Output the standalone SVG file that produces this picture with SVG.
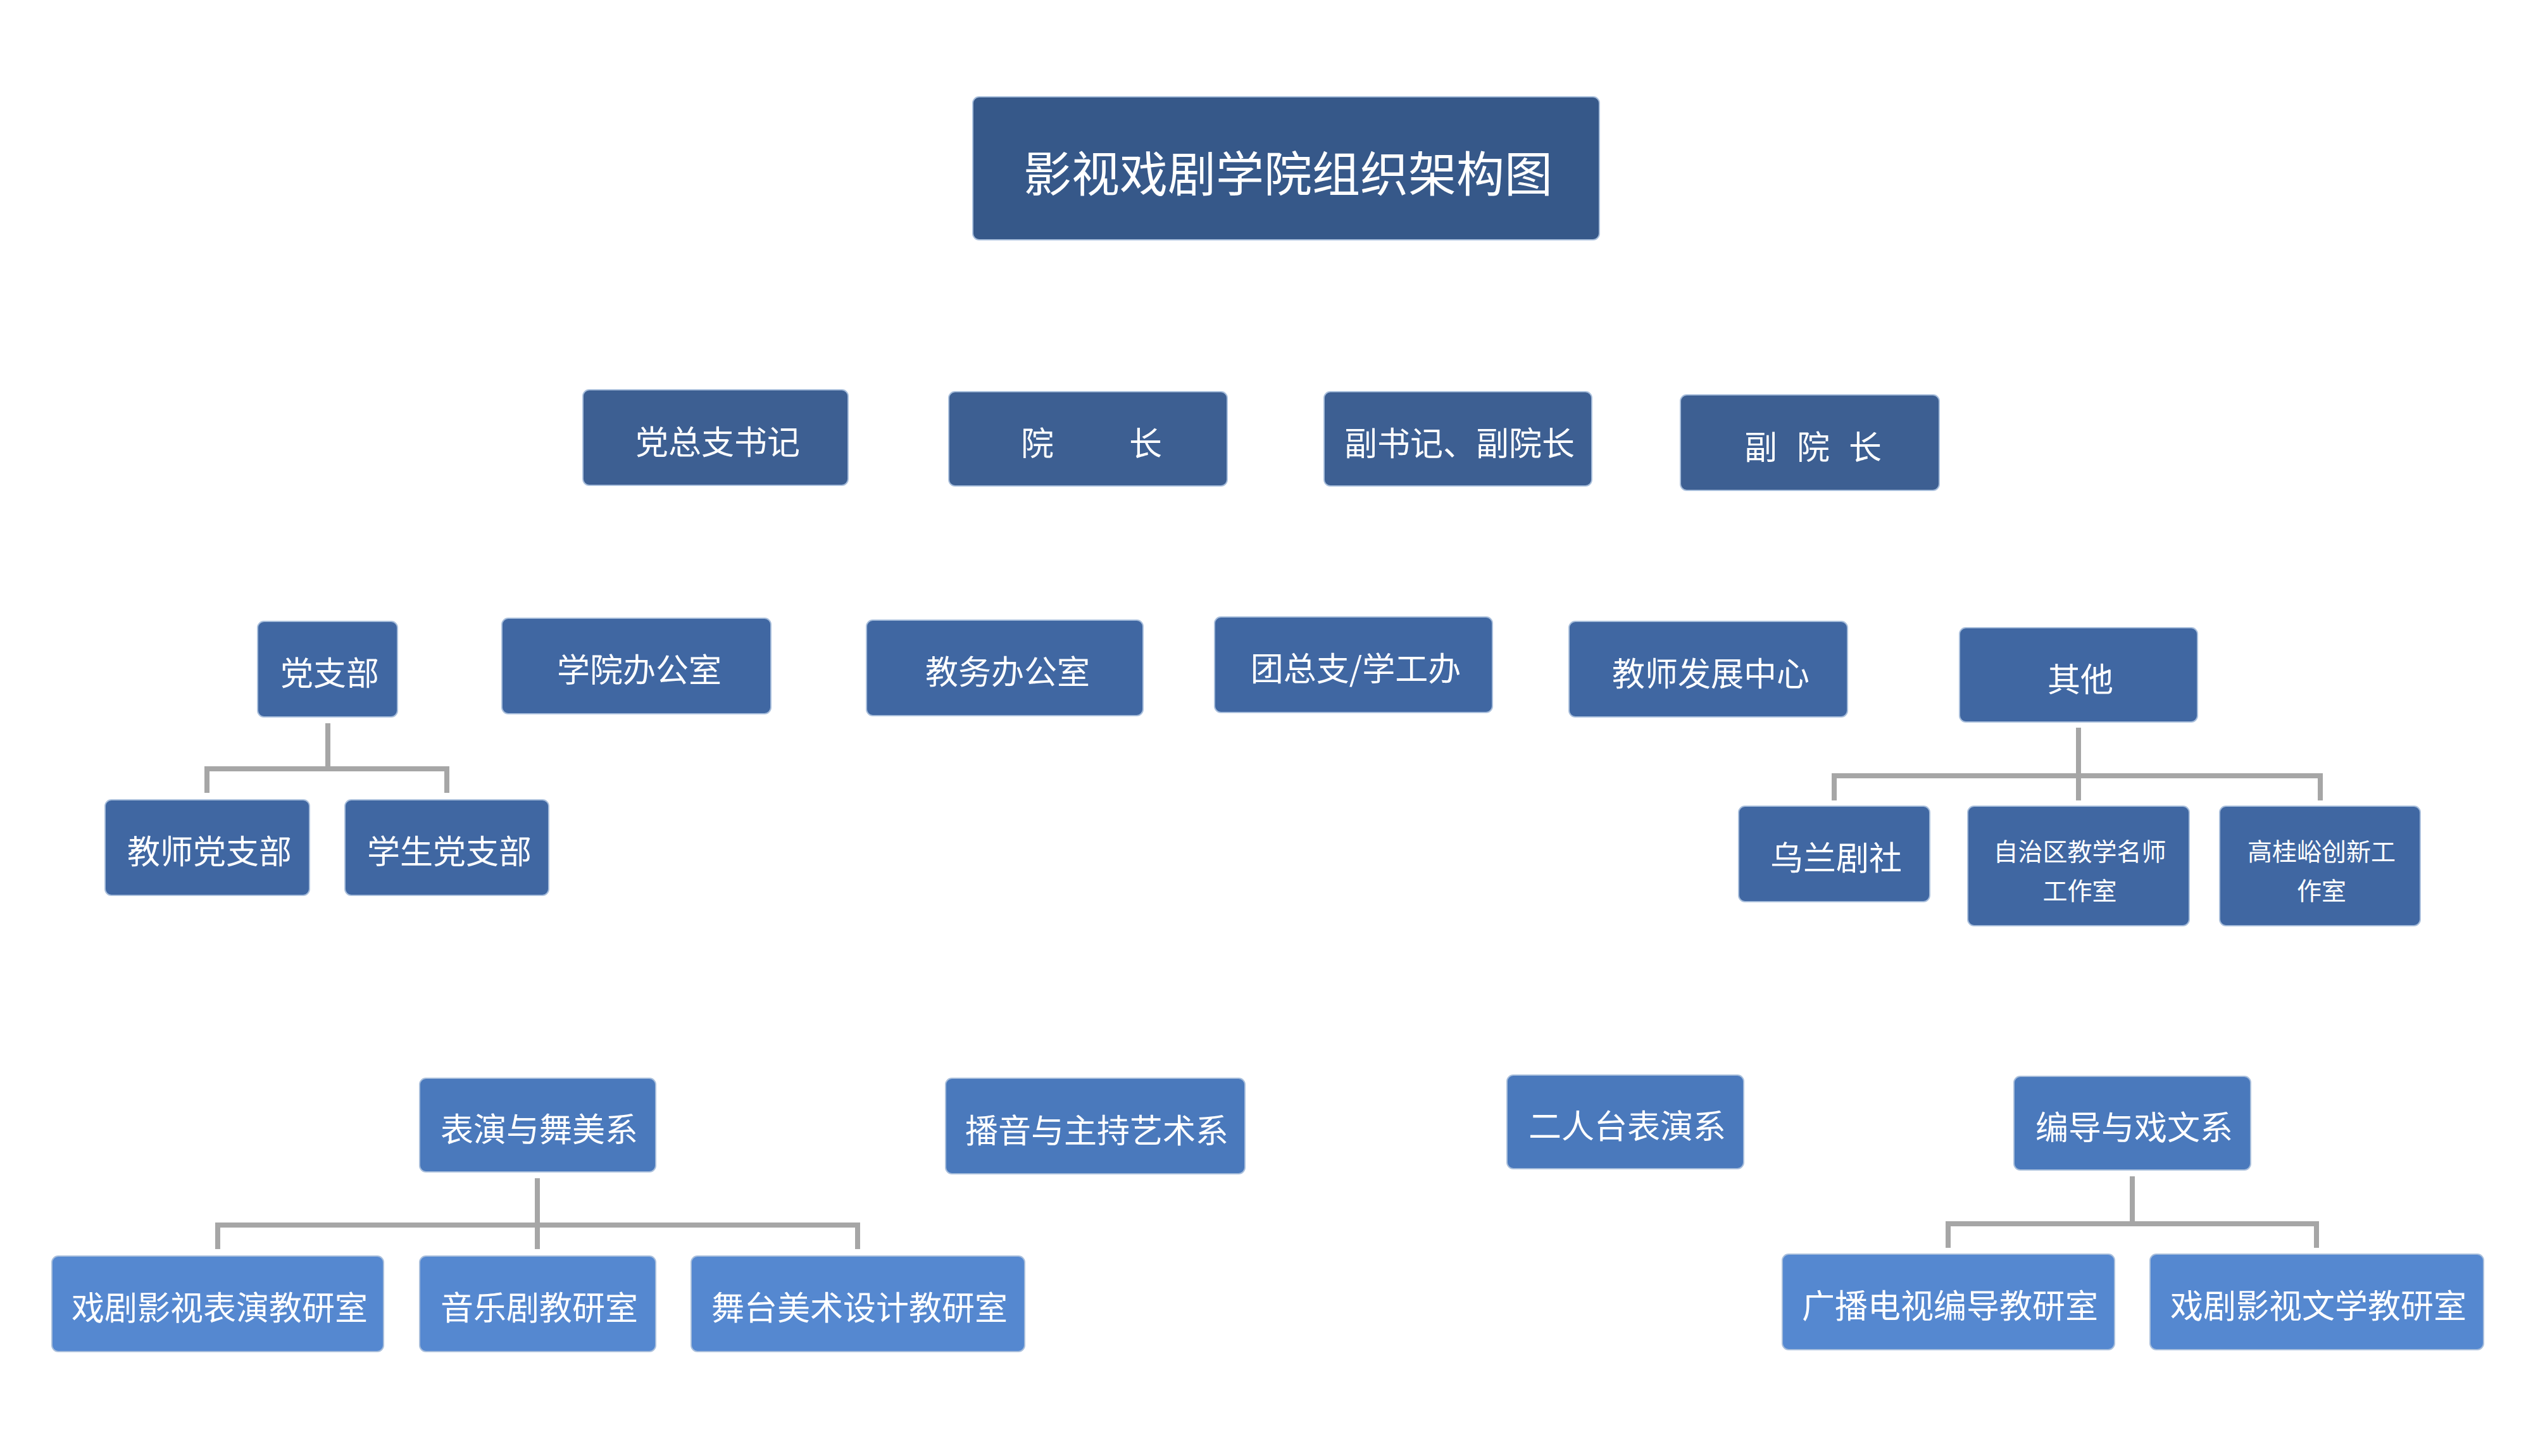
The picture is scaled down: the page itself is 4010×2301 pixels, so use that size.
<svg xmlns="http://www.w3.org/2000/svg" width="4010" height="2301" viewBox="0 0 4010 2301">
<style>
.n rect{stroke:#a9bfdc;stroke-width:2}
.t0{fill:#365889}
.t1{fill:#3d5f92}
.t2{fill:#4067a2}
.t3{fill:#4a79bc}
.t4{fill:#5588d0}
text{font-family:"Noto Sans CJK SC","Noto Sans",sans-serif;fill:#ffffff;text-anchor:middle;dominant-baseline:central}
.f52{font-size:52px}
.f39{font-size:39px}
.f76{font-size:76px}
.c{stroke:#a6a6a6;stroke-width:8;fill:none}
</style>
<rect width="4010" height="2301" fill="#ffffff"/>
<g id="title" class="n"><rect class="t0" x="1537" y="153" width="990" height="226" rx="10"/><text class="f76" x="2035" y="270">影视戏剧学院组织架构图</text></g>

<g id="n-dzzsj" class="n"><rect class="t1" x="921" y="616" width="419" height="151" rx="10"/><text class="f52" x="1134" y="695">党总支书记</text></g>
<g id="n-yz" class="n"><rect class="t1" x="1499" y="619" width="440" height="149" rx="10"/><text class="f52" y="697"><tspan x="1639">院</tspan><tspan x="1810">长</tspan></text></g>
<g id="n-fsj" class="n"><rect class="t1" x="2092" y="619" width="423" height="149" rx="10"/><text class="f52" x="2306" y="697">副书记、副院长</text></g>
<g id="n-fyz" class="n"><rect class="t1" x="2655" y="624" width="409" height="151" rx="10"/><text class="f52" y="703"><tspan x="2782">副</tspan><tspan x="2865">院</tspan><tspan x="2947">长</tspan></text></g>

<g id="n-dzb" class="n"><rect class="t2" x="407" y="982" width="221" height="151" rx="10"/><text class="f52" x="521" y="1060">党支部</text></g>
<g id="n-xybgs" class="n"><rect class="t2" x="793" y="977" width="425" height="151" rx="10"/><text class="f52" x="1010" y="1055">学院办公室</text></g>
<g id="n-jwbgs" class="n"><rect class="t2" x="1369" y="980" width="437" height="151" rx="10"/><text class="f52" x="1592" y="1058">教务办公室</text></g>
<g id="n-tzz" class="n"><rect class="t2" x="1919" y="975" width="439" height="151" rx="10"/><text class="f52" x="2142" y="1053">团总支/学工办</text></g>
<g id="n-jsfz" class="n"><rect class="t2" x="2479" y="982" width="440" height="151" rx="10"/><text class="f52" x="2703" y="1061">教师发展中心</text></g>
<g id="n-qt" class="n"><rect class="t2" x="3096" y="992" width="376" height="149" rx="10"/><text class="f52" x="3287" y="1070">其他</text></g>

<g id="n-jsdzb" class="n"><rect class="t2" x="166" y="1264" width="323" height="151" rx="10"/><text class="f52" x="331" y="1342">教师党支部</text></g>
<g id="n-xsdzb" class="n"><rect class="t2" x="545" y="1264" width="322" height="151" rx="10"/><text class="f52" x="710" y="1342">学生党支部</text></g>
<g id="n-wljs" class="n"><rect class="t2" x="2747" y="1274" width="302" height="151" rx="10"/><text class="f52" x="2901" y="1352">乌兰剧社</text></g>
<g id="n-zzq" class="n"><rect class="t2" x="3109" y="1274" width="350" height="189" rx="10"/><text class="f39" x="3286" y="1343">自治区教学名师</text><text class="f39" x="3286" y="1405">工作室</text></g>
<g id="n-ggy" class="n"><rect class="t2" x="3507" y="1274" width="317" height="189" rx="10"/><text class="f39" x="3668" y="1343">高桂峪创新工</text><text class="f39" x="3668" y="1405">作室</text></g>

<g id="n-by" class="n"><rect class="t3" x="663" y="1704" width="373" height="148" rx="10"/><text class="f52" x="852" y="1781">表演与舞美系</text></g>
<g id="n-byzc" class="n"><rect class="t3" x="1494" y="1704" width="473" height="151" rx="10"/><text class="f52" x="1733" y="1783">播音与主持艺术系</text></g>
<g id="n-ert" class="n"><rect class="t3" x="2381" y="1699" width="374" height="148" rx="10"/><text class="f52" x="2571" y="1776">二人台表演系</text></g>
<g id="n-bd" class="n"><rect class="t3" x="3182" y="1701" width="374" height="148" rx="10"/><text class="f52" x="3372" y="1778">编导与戏文系</text></g>

<g id="n-xjys" class="n"><rect class="t4" x="82" y="1985" width="524" height="151" rx="10"/><text class="f52" x="347" y="2063">戏剧影视表演教研室</text></g>
<g id="n-yyj" class="n"><rect class="t4" x="663" y="1985" width="373" height="151" rx="10"/><text class="f52" x="852" y="2063">音乐剧教研室</text></g>
<g id="n-wtms" class="n"><rect class="t4" x="1092" y="1985" width="527" height="151" rx="10"/><text class="f52" x="1358" y="2063">舞台美术设计教研室</text></g>
<g id="n-gbds" class="n"><rect class="t4" x="2816" y="1982" width="525" height="151" rx="10"/><text class="f52" x="3081" y="2060">广播电视编导教研室</text></g>
<g id="n-xjwx" class="n"><rect class="t4" x="3397" y="1982" width="527" height="151" rx="10"/><text class="f52" x="3663" y="2060">戏剧影视文学教研室</text></g>

<g id="connectors" class="c">
<path d="M518 1143V1215M327 1253V1215H706V1253"/>
<path d="M3284 1150V1226M2898 1265V1226H3666V1265M3284 1226V1265"/>
<path d="M849 1862V1936M344 1974V1936H1355V1974M849 1936V1974"/>
<path d="M3369 1859V1934M3078 1972V1934H3660V1972"/>
</g>
</svg>
